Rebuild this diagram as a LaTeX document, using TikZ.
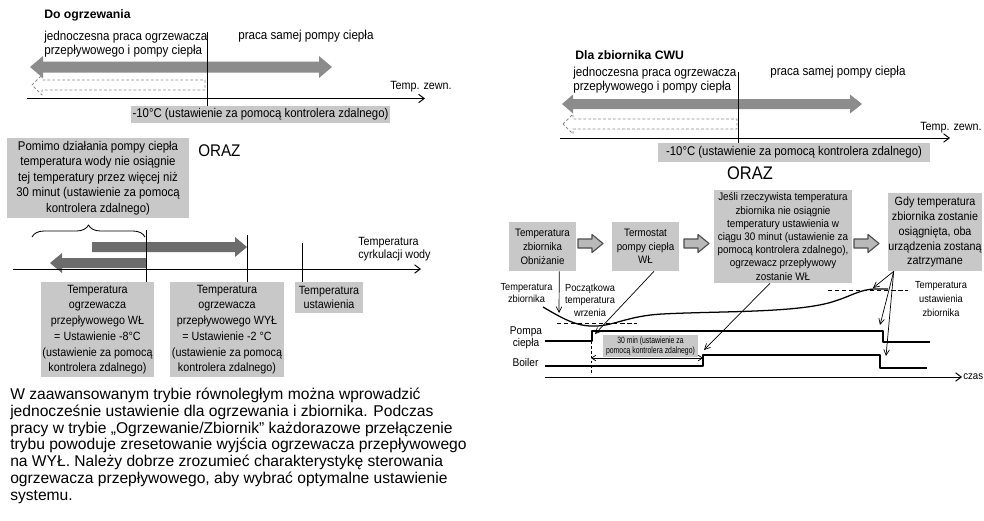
\documentclass[tikz,border=0pt]{standalone}
\usepackage{fontspec}
\setmainfont{Liberation Sans}[FakeStretch=0.9]
\newfontfamily\bodyfont{Liberation Sans}
\newfontfamily\narrowfont{Liberation Sans}[FakeStretch=0.75]
\usetikzlibrary{arrows.meta,calc,decorations.pathreplacing}

\definecolor{lblgray}{RGB}{200,200,200}
\definecolor{bargray}{RGB}{140,140,140}
\definecolor{darkbar}{RGB}{108,108,108}
\definecolor{blockgray}{RGB}{185,185,185}

\newcommand{\pxu}{0.025cm}
\newcommand{\setfs}[2]{\fontsize{#1}{#2}\selectfont}

\begin{document}
\begin{tikzpicture}[
		x=0.025cm, y=-0.025cm,
		line join=round,
		font=\setfs{8.5}{10.5},
		lblbox/.style={fill=lblgray, inner sep=0pt, align=center},
		txt/.style={inner sep=0pt, align=left},
		ctxt/.style={inner sep=0pt, align=center},
		tempaxis/.style={-{Straight Barb[length=4pt,width=6pt]}, line width=0.7pt},
		pointer/.style={-{Straight Barb[length=4pt,width=4pt]}, line width=0.5pt},
		flowarrow/.style={fill=blockgray, draw=black!70, line width=0.8pt},
		dashout/.style={draw=black!45, dash pattern=on 2pt off 1.5pt, line width=0.6pt},
		signal/.style={line width=1.1pt}
		]
		
		\useasboundingbox (0,0) rectangle (984,520);
		
		% Do ogrzewania
		\node[anchor=base west, inner sep=0pt, font=\bodyfont\bfseries\setfs{8.7}{10}] (titleheat) at (44,18.3) {Do ogrzewania};
		\node[txt, anchor=north west, font=\setfs{9.2}{10.4}] (bothheat) at (44,30.5) {jednoczesna praca ogrzewacza\\przepływowego i pompy ciepła};
		\node[txt, anchor=base west, font=\setfs{9.2}{10.4}] (hponlyheat) at (238,39.3) {praca samej pompy ciepła};
		\fill[bargray] (30,67) -- (43,56) -- (43,61.5) -- (319,61.5) -- (319,56) -- (332,67) -- (319,78) -- (319,72.5) -- (43,72.5) -- (43,78) -- cycle;
		\draw[dashout] (32,85) -- (42,75) -- (42,80) -- (205,80) -- (205,90) -- (42,90) -- (42,95) -- cycle;
		\draw[tempaxis] (27,98.5) -- (425,98.5);
		\node[txt, anchor=base west] (outheat) at (390,89) {Temp. zewn.};
		\node[lblbox, minimum width=259*\pxu, minimum height=17*\pxu, font=\setfs{9}{10.4}] (limheat) at (260.5,114.5) {-10°C (ustawienie za pomocą kontrolera zdalnego)};
		\draw (207,32) -- (207,0 |- limheat.north);
		
		% Warunek 30 minut
		\node[lblbox, minimum width=182*\pxu, minimum height=80*\pxu, font=\setfs{9}{11.1}] (delayheat) at (98,178) {Pomimo działania pompy ciepła\\temperatura wody nie osiągnie\\tej temperatury przez więcej niż\\30 minut (ustawienie za pomocą\\kontrolera zdalnego)};
		\node[anchor=west, inner sep=0pt, font=\setfs{12}{14}] (andleft) at (198,151) {ORAZ};
		\draw[decorate, decoration={brace, amplitude=0.3cm}, line width=0.6pt] (32,237) -- (145,237);
		
		% Temperatura cyrkulacji
		\fill[darkbar] (92,242) -- (235,242) -- (235,237) -- (247,247) -- (235,257) -- (235,252) -- (92,252) -- cycle;
		\fill[darkbar] (146,258) -- (62,258) -- (62,253) -- (50,263) -- (62,273) -- (62,268) -- (146,268) -- cycle;
		\draw[tempaxis] (13,269) -- (421,269);
		\node[txt, anchor=north west, font=\setfs{8.5}{9.2}] (flowtemp) at (358,237) {Temperatura\\cyrkulacji wody};
		\node[lblbox, minimum width=113*\pxu, minimum height=95*\pxu, font=\setfs{8.5}{11.2}] (onbox) at (97.5,329.5) {Temperatura\\ogrzewacza\\przepływowego WŁ\\= Ustawienie -8°C\\(ustawienie za pomocą\\kontrolera zdalnego)};
		\node[lblbox, minimum width=114*\pxu, minimum height=95*\pxu, font=\setfs{8.5}{11.2}] (offbox) at (227,329.5) {Temperatura\\ogrzewacza\\przepływowego WYŁ\\= Ustawienie -2 °C\\(ustawienie za pomocą\\kontrolera zdalnego)};
		\node[lblbox, minimum width=68*\pxu, minimum height=31*\pxu, font=\setfs{8.5}{10}] (setbox) at (329,297.5) {Temperatura\\ustawienia};
		\draw (146,230) -- (146,0 |- onbox.north);
		\draw (247,235) -- (247,0 |- offbox.north);
		\draw (302,243) -- (302,0 |- setbox.north);
		
		% Opis
		\node[txt, anchor=north west, font=\bodyfont\setfs{11.1}{11.9}] (advnote) at (10,388) {W zaawansowanym trybie równoległym można wprowadzić\\jednocześnie ustawienie dla ogrzewania i zbiornika. Podczas\\pracy w trybie „Ogrzewanie/Zbiornik” każdorazowe przełączenie\\trybu powoduje zresetowanie wyjścia ogrzewacza przepływowego\\na WYŁ. Należy dobrze zrozumieć charakterystykę sterowania\\ogrzewacza przepływowego, aby wybrać optymalne ustawienie\\systemu.};
		
		% Dla zbiornika CWU
		\node[anchor=base west, inner sep=0pt, font=\bodyfont\bfseries\setfs{8.7}{10}] (titletank) at (575,59.3) {Dla zbiornika CWU};
		\node[txt, anchor=north west, font=\setfs{9.2}{10.2}] (bothtank) at (573,66.8) {jednoczesna praca ogrzewacza\\przepływowego i pompy ciepła};
		\node[txt, anchor=base west, font=\setfs{9.2}{10.2}] (hponlytank) at (770,75.7) {praca samej pompy ciepła};
		\fill[bargray] (562,104) -- (573,94.5) -- (573,99) -- (850,99) -- (850,94.5) -- (862,104) -- (850,113.5) -- (850,109) -- (573,109) -- (573,113.5) -- cycle;
		\draw[dashout] (563,124) -- (573,114) -- (573,119) -- (737,119) -- (737,129) -- (573,129) -- (573,134) -- cycle;
		\draw[tempaxis] (560,138) -- (950,138);
		\node[txt, anchor=base west] (outtank) at (920,130.7) {Temp. zewn.};
		\node[lblbox, minimum width=272*\pxu, minimum height=19*\pxu, font=\setfs{9}{10.4}] (limtank) at (794,152.5) {-10°C (ustawienie za pomocą kontrolera zdalnego)};
		\draw (738,72) -- (738,0 |- limtank.north);
		\node[inner sep=0pt, font=\setfs{13}{15}] (andright) at (750,173) {ORAZ};
		
		% Przebieg
		\node[lblbox, minimum width=67*\pxu, minimum height=49*\pxu, font=\setfs{7.7}{10}] (dropbox) at (542.5,246.5) {Temperatura\\zbiornika\\Obniżanie};
		\node[lblbox, minimum width=67*\pxu, minimum height=49*\pxu, font=\setfs{7.7}{9.6}] (thermobox) at (645.5,246.5) {Termostat\\pompy ciepła\\WŁ};
		\node[lblbox, minimum width=138*\pxu, minimum height=93*\pxu, font=\setfs{7.8}{9.4}] (delaytank) at (783,236.5) {Jeśli rzeczywista temperatura\\zbiornika nie osiągnie\\temperatury ustawienia w\\ciągu 30 minut (ustawienie za\\pomocą kontrolera zdalnego),\\ogrzewacz przepływowy\\zostanie WŁ};
		\node[lblbox, minimum width=94*\pxu, minimum height=78*\pxu, font=\setfs{8.5}{10.6}] (stopbox) at (935,232) {Gdy temperatura\\zbiornika zostanie\\osiągnięta, oba\\urządzenia zostaną\\zatrzymane};
		\foreach \xa in {578,684,854}{
			\draw[flowarrow] (\xa,239) -- (\xa+14,239) -- (\xa+14,234.5) -- (\xa+25,243.5) -- (\xa+14,252.5) -- (\xa+14,248) -- (\xa,248) -- cycle;
		}
		
		% Wykres czasowy
		\coordinate (tankmin) at (559,313);
		\coordinate (pumpon) at (595,334);
		\coordinate (boileron) at (704,350);
		\draw[pointer] ($(dropbox.south east)+(-17,0)$) -- (tankmin);
		\node[ctxt, font=\setfs{7.3}{8.7}] (tanklbl) at (526.5,293) {Temperatura\\zbiornika};
		\node[ctxt, font=\setfs{7.3}{9}] (boillbl) at (590,300) {Początkowa\\temperatura\\wrzenia};
		\draw[line width=0.9pt] (543,307) .. controls (565,320) and (578,327) .. (597,326) .. controls (616,325) and (628,316) .. (662,314) .. controls (720,311) and (795,313) .. (832,302) .. controls (852,296) and (860,289) .. (876,289) -- (888,289);
		\draw[dash pattern=on 3pt off 2pt, line width=0.6pt] (557,323) -- (637,323);
		\draw[dash pattern=on 3pt off 2pt, line width=0.6pt] (828,290) -- (908,290);
		\node[ctxt, font=\setfs{7.3}{9.8}] (setlbl) at (941,299) {Temperatura\\ustawienia\\zbiornika};
		\node[ctxt, font=\setfs{8}{8.5}] (pumplbl) at (526,337.5) {Pompa\\ciepła};
		\node[ctxt, font=\setfs{8}{9}] (boilerlbl) at (525.5,362) {Boiler};
		\draw[signal] (545,341) -- (592,341) -- (592,331) -- (883,331) -- (883,342) -- (930,342);
		\draw[signal] (545,366) -- (703,366) -- (703,355) -- (880,355) -- (880,368) -- (927,368);
		\draw[dash pattern=on 2pt off 1.5pt, line width=0.6pt] (591,331) -- (591,373);
		\node[lblbox, minimum width=95*\pxu, minimum height=22*\pxu, font=\narrowfont\setfs{6.5}{7}] (delaylbl) at (650.5,346) {30 min (ustawienie za\\pomocą kontrolera zdalnego)};
		\draw[{Straight Barb[length=3pt,width=4pt]}-{Straight Barb[length=3pt,width=4pt]}, line width=0.5pt] (591,358) -- (703,358);
		\draw[tempaxis] (545,377) -- (962,377);
		\node[anchor=west, inner sep=0pt, font=\setfs{7.6}{9}] (timelbl) at (963,377) {czas};
		\draw[pointer] ($(thermobox.south)+(8.5,0)$) -- (pumpon);
		\draw[pointer] ($(delaytank.south)+(-13,0)$) -- (boileron);
		\foreach \tx/\ty in {873/288, 880/325, 886/356}{
			\draw[pointer] ($(stopbox.south west)+(6,0)$) -- (\tx,\ty);
		}
		
	\end{tikzpicture}
\end{document}
